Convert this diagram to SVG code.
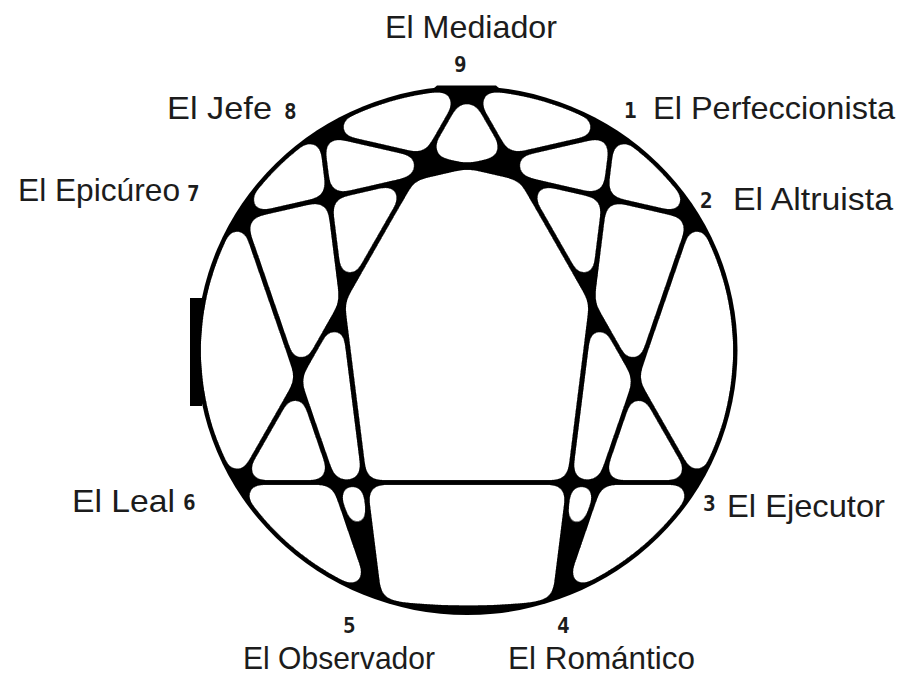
<svg xmlns="http://www.w3.org/2000/svg" width="912" height="676" viewBox="0 0 912 676">
<style>
.lbl{font-family:"Liberation Sans",Arial,sans-serif;font-size:32px;fill:#1c1c1c}
.num{font-family:"DejaVu Sans Mono","Liberation Mono",monospace;font-weight:bold;font-size:21px;fill:#1c1c1c}
.ln{stroke:#000;stroke-width:5;fill:none}
</style>
<defs>
<filter id="open" filterUnits="userSpaceOnUse" x="0" y="0" width="912" height="676" color-interpolation-filters="sRGB">
<feColorMatrix in="SourceGraphic" type="luminanceToAlpha" result="a0"/>
<feGaussianBlur in="a0" stdDeviation="5" result="b1"/>
<feComponentTransfer in="b1" result="e1"><feFuncA type="linear" slope="40" intercept="-37.5"/></feComponentTransfer>
<feGaussianBlur in="e1" stdDeviation="5" result="b2"/>
<feComponentTransfer in="b2" result="d1"><feFuncA type="linear" slope="40" intercept="-1.5"/></feComponentTransfer>
<feFlood flood-color="#fff"/>
<feComposite in2="d1" operator="in"/>
</filter>
</defs>
<rect width="912" height="676" fill="#fff"/>
<g id="ring">
<ellipse cx="467" cy="350.5" rx="270.5" ry="264.5" fill="#000"/>
<path d="M433 89L437 85.5H496L500 89Z" fill="#000"/>
<rect x="190" y="298" width="12" height="108" fill="#000"/>
</g>
<g filter="url(#open)">
<ellipse cx="467" cy="350.5" rx="265.5" ry="259.5" fill="#fff"/>
<path d="M360 597Q467 614 575 597L575 640L360 640Z" fill="#000"/>
<path d="M446 86L488 86L477 101Q467 105 457 101Z" fill="#000"/>
<g id="connectors" class="ln">
<path d="M195 482.5H740"/>
<path d="M470 79L234 491"/>
<path d="M464 79L700 491"/>
<path d="M319.8 123L381.3 615"/>
<path d="M614.2 123L552.7 615"/>
<path d="M236.7 200.5L379.3 614.5"/>
<path d="M697.3 200.5L554.7 614.5"/>
<path d="M230 220.2L621.7 130.8"/>
<path d="M312.3 130.8L703.8 220.2"/>
</g>
</g>
<g id="n9"><text class="lbl" x="385" y="38" textLength="172" lengthAdjust="spacingAndGlyphs">El Mediador</text><text class="num" x="454" y="72">9</text></g>
<g id="n1"><text class="num" x="624" y="118">1</text><text class="lbl" x="653" y="119" textLength="242" lengthAdjust="spacingAndGlyphs">El Perfeccionista</text></g>
<g id="n2"><text class="num" x="700" y="208">2</text><text class="lbl" x="733" y="210" textLength="160" lengthAdjust="spacingAndGlyphs">El Altruista</text></g>
<g id="n3"><text class="num" x="703" y="511">3</text><text class="lbl" x="727" y="517" textLength="158" lengthAdjust="spacingAndGlyphs">El Ejecutor</text></g>
<g id="n4"><text class="num" x="557" y="633">4</text><text class="lbl" x="508" y="669" textLength="187" lengthAdjust="spacingAndGlyphs">El Romántico</text></g>
<g id="n5"><text class="num" x="343" y="633">5</text><text class="lbl" x="243" y="669" textLength="192" lengthAdjust="spacingAndGlyphs">El Observador</text></g>
<g id="n6"><text class="lbl" x="72" y="512" textLength="103" lengthAdjust="spacingAndGlyphs">El Leal</text><text class="num" x="183" y="510">6</text></g>
<g id="n7"><text class="lbl" x="18" y="201" textLength="162" lengthAdjust="spacingAndGlyphs">El Epicúreo</text><text class="num" x="187" y="201">7</text></g>
<g id="n8"><text class="lbl" x="167" y="119" textLength="105" lengthAdjust="spacingAndGlyphs">El Jefe</text><text class="num" x="284" y="119">8</text></g>
</svg>
